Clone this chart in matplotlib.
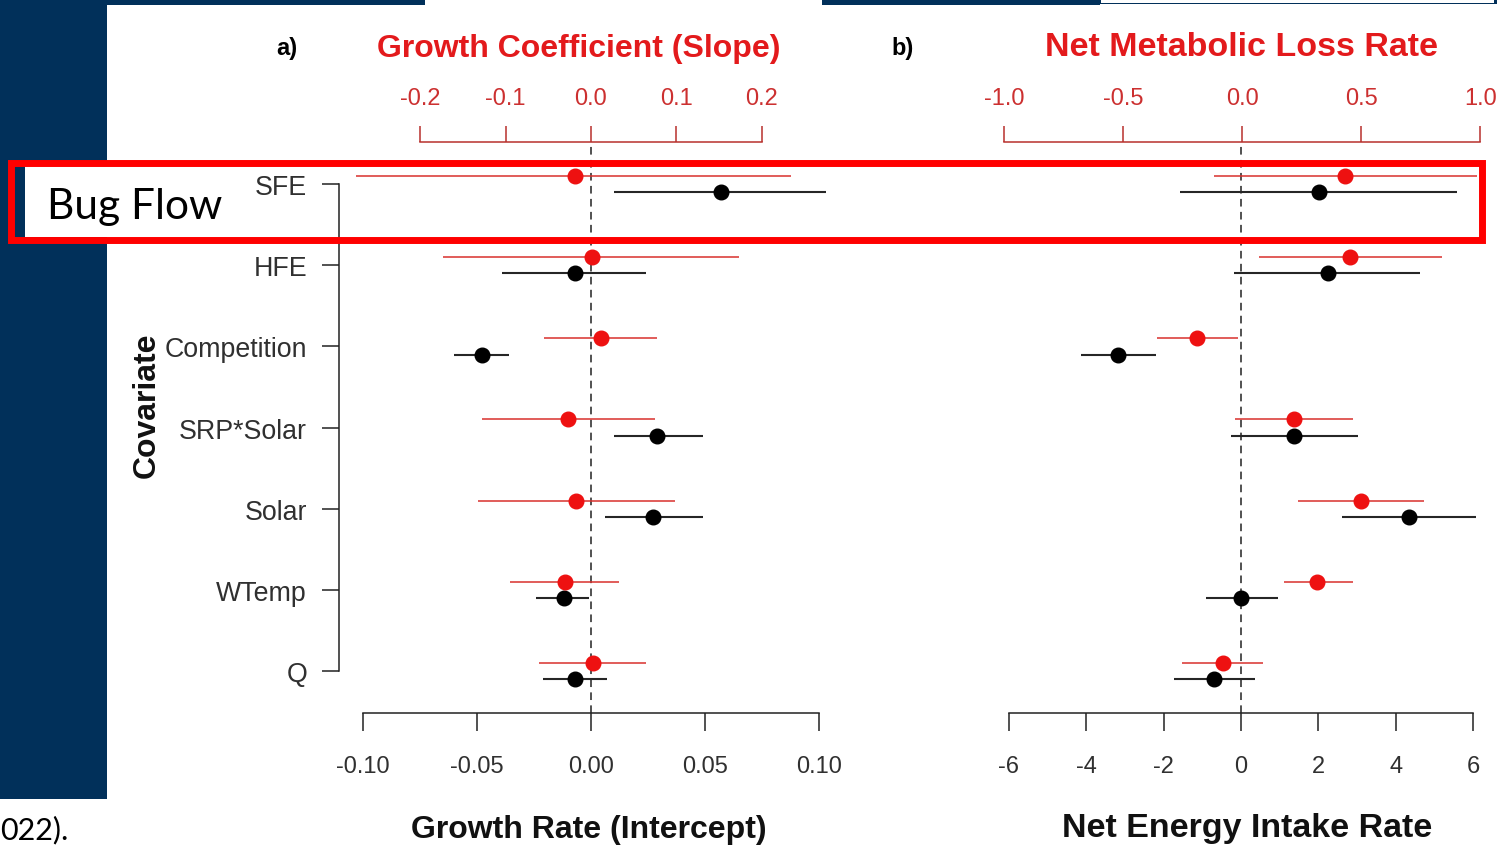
import matplotlib
matplotlib.use("Agg")
import matplotlib.pyplot as plt
from matplotlib.patches import Rectangle
import numpy as np

# ---- data -------------------------------------------------------------
covariates = ["SFE", "HFE", "Competition", "SRP*Solar", "Solar", "WTemp", "Q"]

# panel a: growth coefficient (slope, red, top axis) and growth rate (intercept, black, bottom axis)
slope_est = [-0.019, 0.001, 0.012, -0.027, -0.017, -0.031, 0.002]
slope_lo = [-0.275, -0.173, -0.055, -0.128, -0.132, -0.095, -0.061]
slope_hi = [0.235, 0.174, 0.077, 0.075, 0.099, 0.033, 0.065]
intercept_est = [0.057, -0.007, -0.048, 0.029, 0.027, -0.012, -0.007]
intercept_lo = [0.010, -0.039, -0.060, 0.010, 0.006, -0.024, -0.021]
intercept_hi = [0.103, 0.024, -0.036, 0.049, 0.049, -0.001, 0.007]

# panel b: net metabolic loss rate (red, top axis) and net energy intake rate (black, bottom axis)
loss_est = [0.431, 0.454, -0.190, 0.216, 0.498, 0.314, -0.082]
loss_lo = [-0.119, 0.069, -0.358, -0.029, 0.236, 0.174, -0.253]
loss_hi = [0.986, 0.841, -0.020, 0.464, 0.765, 0.464, 0.088]
intake_est = [2.02, 2.24, -3.18, 1.38, 4.34, 0.01, -0.70]
intake_lo = [-1.58, -0.18, -4.13, -0.27, 2.61, -0.91, -1.72]
intake_hi = [5.59, 4.64, -2.21, 3.03, 6.08, 0.96, 0.36]

a_top_ticks = [-0.2, -0.1, 0.0, 0.1, 0.2]
a_top_labels = ["-0.2", "-0.1", "0.0", "0.1", "0.2"]
a_bot_ticks = [-0.10, -0.05, 0.0, 0.05, 0.10]
a_bot_labels = ["-0.10", "-0.05", "0.00", "0.05", "0.10"]
b_top_ticks = [-1.0, -0.5, 0.0, 0.5, 1.0]
b_top_labels = ["-1.0", "-0.5", "0.0", "0.5", "1.0"]
b_bot_ticks = [-6, -4, -2, 0, 2, 4, 6]
b_bot_labels = ["-6", "-4", "-2", "0", "2", "4", "6"]

# ---- style ------------------------------------------------------------
W, H = 1511, 854
plt.rcParams["font.family"] = ["Liberation Sans", "DejaVu Sans"]
plt.rcParams["axes.unicode_minus"] = False

NAVY = "#01305a"
RED_PT = "#ee1111"
RED_LN = "#d9302c"
RED_AX = "#b8302c"
RED_TXT = "#cc3030"
GREY_TXT = "#303030"

fig = plt.figure(figsize=(W / 100, H / 100), dpi=100)


def fx(x):
    return x / W


def fy(y):
    return 1 - y / H


def fig_rect(x0, y0, x1, y1, **kw):
    r = Rectangle((fx(x0), fy(y1)), (x1 - x0) / W, (y1 - y0) / H,
                  transform=fig.transFigure, **kw)
    fig.add_artist(r)
    return r


# slide decoration
fig_rect(0, 0, 107, 800, facecolor=NAVY, edgecolor="none", zorder=-5)
fig_rect(107, 0, 425, 6, facecolor=NAVY, edgecolor="none", zorder=-5)
fig_rect(822, 0, 1100, 6, facecolor=NAVY, edgecolor="none", zorder=-5)
fig_rect(1100, 0, 1497, 5, facecolor=NAVY, edgecolor="none", zorder=-5)
fig_rect(1101, 0, 1494, 3.5, facecolor="white", edgecolor="none", zorder=-4)

rows = np.arange(len(covariates))
OFF = 0.1
TOP_Y, BOT_Y = 143, 714
YLIM = (6.515, -0.517)


def make_panel(left, right, bot_lim, top_lim, bot_ticks, bot_labels,
               top_ticks, top_labels, top_est, top_lo, top_hi,
               bot_est, bot_lo, bot_hi, show_y):
    ax = fig.add_axes([fx(left), fy(BOT_Y), (right - left) / W, (BOT_Y - TOP_Y) / H])
    ax.set_xlim(*bot_lim)
    ax.set_ylim(*YLIM)
    ax.patch.set_alpha(0)
    for s in ("top", "right"):
        ax.spines[s].set_visible(False)
    ax.spines["bottom"].set_bounds(bot_ticks[0], bot_ticks[-1])
    ax.spines["bottom"].set_linewidth(1.1)
    ax.spines["bottom"].set_color("#222222")
    ax.set_xticks(bot_ticks)
    ax.set_xticklabels(bot_labels)
    ax.tick_params(axis="x", length=13, width=1.1, color="#222222", pad=17,
                   labelsize=17, labelcolor=GREY_TXT)
    if show_y:
        ax.spines["left"].set_bounds(rows[0], rows[-1])
        ax.spines["left"].set_linewidth(1.1)
        ax.spines["left"].set_color("#222222")
        ax.set_yticks(rows)
        ax.set_yticklabels(covariates)
        ax.tick_params(axis="y", length=12, width=1.1, color="#222222", pad=11,
                       labelsize=19.3, labelcolor=GREY_TXT)
    else:
        ax.spines["left"].set_visible(False)
        ax.set_yticks([])

    ax.axvline(0, color="#222222", lw=1.1, ls=(0, (5, 3.5)), zorder=1)

    # intercept-type estimates on the bottom scale
    ax.hlines(rows + OFF, bot_lo, bot_hi, color="#262626", lw=1.5, clip_on=False, zorder=2)
    ax.plot(bot_est, rows + OFF, "o", color="black", ms=10.5, clip_on=False, zorder=3)

    # slope-type estimates on the top scale
    axt = ax.twiny()
    axt.set_xlim(*top_lim)
    axt.set_ylim(*YLIM)
    for s in ("left", "right", "bottom"):
        axt.spines[s].set_visible(False)
    axt.spines["top"].set_bounds(top_ticks[0], top_ticks[-1])
    axt.spines["top"].set_color(RED_AX)
    axt.spines["top"].set_linewidth(1.1)
    axt.set_xticks(top_ticks)
    axt.set_xticklabels(top_labels)
    axt.tick_params(axis="x", length=11.5, width=1.1, color=RED_AX, pad=12,
                    labelsize=17, labelcolor=RED_TXT)
    axt.hlines(rows - OFF, top_lo, top_hi, color=RED_LN, lw=1.1, clip_on=False, zorder=2)
    axt.plot(top_est, rows - OFF, "o", color=RED_PT, ms=10.5, clip_on=False, zorder=3)
    return ax, axt


make_panel(339, 840, (-0.1105, 0.1092), (-0.2954, 0.2919),
           a_bot_ticks, a_bot_labels, a_top_ticks, a_top_labels,
           slope_est, slope_lo, slope_hi,
           intercept_est, intercept_lo, intercept_hi, True)

make_panel(990, 1490, (-6.491, 6.439), (-1.0605, 1.0412),
           b_bot_ticks, b_bot_labels, b_top_ticks, b_top_labels,
           loss_est, loss_lo, loss_hi,
           intake_est, intake_lo, intake_hi, False)

# titles and axis labels
fig.text(fx(287), fy(49), "a)", fontsize=17, weight="bold", ha="center", va="center")
fig.text(fx(903), fy(49), "b)", fontsize=17, weight="bold", ha="center", va="center")
fig.text(fx(578.5), fy(49), "Growth Coefficient (Slope)", fontsize=23, weight="bold",
         color="#e31a1c", ha="center", va="center")
fig.text(fx(1241.5), fy(48), "Net Metabolic Loss Rate", fontsize=24.5, weight="bold",
         color="#e31a1c", ha="center", va="center")
fig.text(fx(588.5), fy(830), "Growth Rate (Intercept)", fontsize=23, weight="bold",
         color="#111111", ha="center", va="center")
fig.text(fx(1247), fy(829), "Net Energy Intake Rate", fontsize=24.5, weight="bold",
         color="#111111", ha="center", va="center")
fig.text(fx(147), fy(405), "Covariate", fontsize=23, weight="bold", rotation=90,
         color="#111111", ha="center", va="center")

# highlight box around the SFE row
fig_rect(25, 167, 108, 238, facecolor="white", edgecolor="none", zorder=8)
fig.text(fx(47), fy(207), "Bug Flow", fontsize=30.5, family=["Lato", "DejaVu Sans"],
         color="black", ha="left", va="center", zorder=9)
fig_rect(10.5, 163.7, 1482, 241.3, facecolor="none", edgecolor="#ff0000",
         linewidth=5, zorder=10)

fig.text(fx(0), fy(830), "022).", fontsize=22, family=["Lato", "DejaVu Sans"],
         color="black", ha="left", va="center")

fig.savefig("out.png", dpi=100, facecolor="white")
